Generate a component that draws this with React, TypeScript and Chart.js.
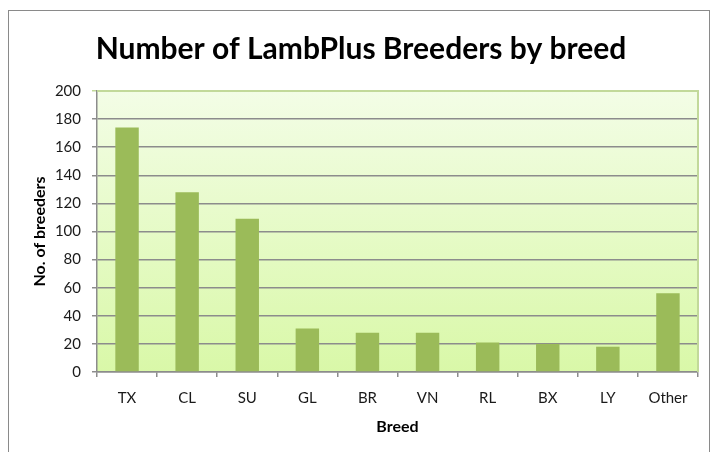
import React, { useEffect, useRef } from "react";
import { Chart, registerables } from "chart.js";

Chart.register(...registerables);

const chartTitle = "Number of LambPlus Breeders by breed";
const breeds = ["TX", "CL", "SU", "GL", "BR", "VN", "RL", "BX", "LY", "Other"];
const breederCounts = [174, 128, 109, 31, 28, 28, 21, 20, 18, 56];
const xAxisTitle = "Breed";
const yAxisTitle = "No. of breeders";
const yMin = 0;
const yMax = 200;
const yStep = 20;

const plotBackground = {
  id: "plotBackground",
  beforeDraw(chart: any) {
    const { ctx, chartArea } = chart;
    if (!chartArea) return;
    const g = ctx.createLinearGradient(0, chartArea.top, 0, chartArea.bottom);
    g.addColorStop(0, "#f3fde6");
    g.addColorStop(1, "#d9f8a8");
    ctx.save();
    ctx.fillStyle = g;
    ctx.fillRect(chartArea.left, chartArea.top, chartArea.right - chartArea.left, chartArea.bottom - chartArea.top);
    ctx.restore();
  },
  afterDraw(chart: any) {
    const { ctx, chartArea } = chart;
    ctx.save();
    ctx.strokeStyle = "#c2d99a";
    ctx.lineWidth = 2;
    ctx.beginPath();
    ctx.moveTo(chartArea.left, chartArea.top);
    ctx.lineTo(chartArea.right, chartArea.top);
    ctx.lineTo(chartArea.right, chartArea.bottom);
    ctx.stroke();
    ctx.restore();
  },
};

export default function App() {
  const canvasRef = useRef<HTMLCanvasElement | null>(null);

  useEffect(() => {
    const canvas = canvasRef.current;
    if (!canvas) return;
    const chart = new Chart(canvas, {
      type: "bar",
      data: {
        labels: breeds,
        datasets: [
          {
            data: breederCounts,
            backgroundColor: "#9bbb59",
            borderWidth: 0,
            barPercentage: 0.39,
            categoryPercentage: 1,
            yAxisID: "y",
          },
        ],
      },
      options: {
        responsive: false,
        animation: false,
        devicePixelRatio: 1,
        layout: { padding: { top: 0, left: 7, right: 0, bottom: 0 } },
        plugins: {
          legend: { display: false },
          tooltip: { enabled: false },
          title: {
            display: true,
            text: chartTitle,
            color: "#000000",
            font: { family: "Lato", size: 30, weight: "bold", lineHeight: 1.2 },
            padding: { top: 31, bottom: 24 },
          },
        },
        scales: {
          x: {
            grid: {
              display: true,
              drawOnChartArea: false,
              drawTicks: true,
              tickLength: 5,
              color: "#8c8c8c",
              lineWidth: 1.5,
              offset: true,
            },
            border: { display: true, color: "#8c8c8c", width: 1.5 },
            ticks: {
              color: "#1a1a1a",
              font: { family: "Lato", size: 15 },
              padding: 12,
              maxRotation: 0,
            },
            title: {
              display: true,
              text: xAxisTitle,
              color: "#000000",
              font: { family: "Lato", size: 16, weight: "bold", lineHeight: 1.2 },
              padding: { top: 0, bottom: 16 },
            },
            afterFit(scale: any) {
              scale.height = 80;
            },
          },
          y: {
            position: "left",
            min: yMin,
            max: yMax,
            grid: {
              color: (c: any) => (c.tick && c.tick.value === yMax ? "#c2d99a" : "#8c8c8c"),
              lineWidth: 1.5,
              tickLength: 5,
              drawTicks: true,
            },
            border: { display: true, color: "#8c8c8c", width: 1.5 },
            ticks: {
              stepSize: yStep,
              color: "#1a1a1a",
              font: { family: "Lato", size: 15 },
              padding: 11,
            },
            title: {
              display: true,
              text: yAxisTitle,
              color: "#000000",
              font: { family: "Lato", size: 16, weight: "bold", lineHeight: 1.2 },
              padding: { top: 23, bottom: 0 },
            },
            afterFit(scale: any) {
              scale.width = 90;
            },
          },
          yRightSpacer: {
            position: "right",
            display: true,
            grid: { display: false, drawTicks: false },
            border: { display: false },
            ticks: { display: false },
            afterFit(scale: any) {
              scale.width = 17;
            },
          },
        },
      },
      plugins: [plotBackground],
    });
    return () => chart.destroy();
  }, []);

  return (
    <div style={{ position: "absolute", left: 0, top: 0, width: 715, height: 452, background: "#ffffff", overflow: "hidden" }}>
      <div
        style={{
          position: "absolute",
          left: 8,
          top: 10,
          width: 702,
          height: 460,
          border: "1.5px solid #8a8a8a",
          boxSizing: "border-box",
        }}
      />
      <canvas ref={canvasRef} width={715} height={452} style={{ position: "absolute", left: 0, top: 0, width: 715, height: 452 }} />
    </div>
  );
}
